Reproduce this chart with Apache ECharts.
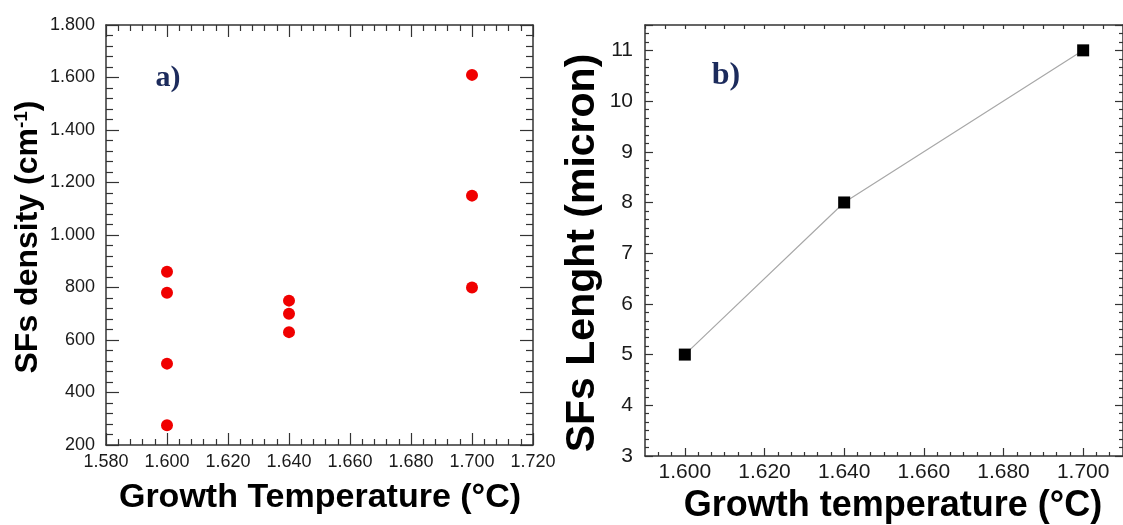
<!DOCTYPE html>
<html>
<head>
<meta charset="utf-8">
<script src="https://cdn.jsdelivr.net/npm/echarts@6/dist/echarts.min.js"></script>
<style>
  html, body { margin: 0; padding: 0; background: #fff; }
  #main { width: 1123px; height: 525px; }
</style>
</head>
<body>
<div id="main"></div>
<script>
// panel a) SF density vs growth temperature
var densityTemps = [1600, 1600, 1600, 1600, 1640, 1640, 1640, 1700, 1700, 1700];
var densityValues = [860, 780, 510, 275, 750, 700, 630, 1610, 1150, 800];

// panel b) SF length vs growth temperature
var lengthTemps = [1600, 1640, 1700];
var lengthValues = [5, 8, 11];

// tick labels of panel b x axis (axis starts at 1590)
var lengthTempTicks = [1600, 1620, 1640, 1660, 1680, 1700];
var lengthTempMinor = [1610, 1630, 1650, 1670, 1690];

var FONT = 'Liberation Sans';
var AXIS = '#333';
var TXT = '#1a1a1a';

// 1800 -> "1.800"
function fmt(v) {
  var s = String(Math.round(v));
  return s.length > 3 ? s.slice(0, -3) + '.' + s.slice(-3) : s;
}

function pairs(xs, ys) {
  return xs.map(function (x, i) { return [x, ys[i]]; });
}

var chart = echarts.init(document.getElementById('main'));

function frameAxis(extra) {
  // mirrored axis on top / right: line + inside ticks, no labels
  return Object.assign({
    type: 'value',
    axisLine: { show: true, onZero: false, lineStyle: { color: AXIS, width: 1.5 } },
    axisLabel: { show: false },
    splitLine: { show: false }
  }, extra);
}

var option = {
  animation: false,
  backgroundColor: '#fff',
  grid: [
    { left: 106, top: 25, width: 427, height: 420 },
    { left: 645, top: 25, width: 481, height: 431 }
  ],
  xAxis: [
    {
      gridIndex: 0, type: 'value', position: 'bottom',
      min: 1580, max: 1720, interval: 20,
      axisLine: { onZero: false, lineStyle: { color: AXIS, width: 1.5 } },
      axisTick: { inside: true, length: 12, lineStyle: { color: AXIS, width: 1.2 } },
      minorTick: { show: true, splitNumber: 5, length: 6, lineStyle: { color: AXIS, width: 1.2 } },
      axisLabel: { formatter: fmt, fontFamily: FONT, fontSize: 18, color: TXT, margin: 8 },
      splitLine: { show: false }
    },
    frameAxis({
      gridIndex: 0, position: 'top', min: 1580, max: 1720, interval: 20,
      axisTick: { inside: true, length: 12, lineStyle: { color: AXIS, width: 1.2 } },
      minorTick: { show: true, splitNumber: 5, length: 6, lineStyle: { color: AXIS, width: 1.2 } }
    }),
    {
      gridIndex: 1, type: 'value', position: 'bottom',
      min: 1590, max: 1710, interval: 10,
      axisLine: { onZero: false, lineStyle: { color: AXIS, width: 1.5 } },
      axisTick: { inside: true, length: 8, customValues: lengthTempTicks, lineStyle: { color: AXIS, width: 1.2 } },
      minorTick: { show: true, splitNumber: 3, length: 4, lineStyle: { color: AXIS, width: 1.2 } },
      axisLabel: { customValues: lengthTempTicks, formatter: fmt, fontFamily: FONT, fontSize: 21, color: TXT, margin: 6 },
      splitLine: { show: false }
    },
    {
      gridIndex: 1, type: 'value', position: 'bottom',
      min: 1590, max: 1710, interval: 10,
      axisLine: { show: false },
      axisTick: { inside: true, length: 4, customValues: lengthTempMinor, lineStyle: { color: AXIS, width: 1.2 } },
      axisLabel: { show: false },
      splitLine: { show: false }
    },
    frameAxis({
      gridIndex: 1, position: 'top', min: 1590, max: 1710, interval: 10,
      axisTick: { inside: true, length: 4, lineStyle: { color: AXIS, width: 1.2 } },
      minorTick: { show: true, splitNumber: 2, length: 4, lineStyle: { color: AXIS, width: 1.2 } }
    })
  ],
  yAxis: [
    {
      gridIndex: 0, type: 'value', position: 'left',
      min: 200, max: 1800, interval: 200,
      axisLine: { show: true, onZero: false, lineStyle: { color: AXIS, width: 1.5 } },
      axisTick: { show: true, inside: true, length: 13, lineStyle: { color: AXIS, width: 1.2 } },
      minorTick: { show: true, splitNumber: 5, length: 7, lineStyle: { color: AXIS, width: 1.2 } },
      axisLabel: { formatter: fmt, fontFamily: FONT, fontSize: 18, color: TXT, margin: 11 },
      splitLine: { show: false }
    },
    frameAxis({
      gridIndex: 0, position: 'right', min: 200, max: 1800, interval: 200,
      axisTick: { show: true, inside: true, length: 13, lineStyle: { color: AXIS, width: 1.2 } },
      minorTick: { show: true, splitNumber: 5, length: 7, lineStyle: { color: AXIS, width: 1.2 } }
    }),
    {
      gridIndex: 1, type: 'value', position: 'left',
      min: 3, max: 11.5, interval: 1,
      axisLine: { show: true, onZero: false, lineStyle: { color: AXIS, width: 1.5 } },
      axisTick: { show: true, inside: true, length: 8, lineStyle: { color: AXIS, width: 1.2 } },
      minorTick: { show: true, splitNumber: 6, length: 4, lineStyle: { color: AXIS, width: 1.2 } },
      axisLabel: { fontFamily: FONT, fontSize: 21, color: TXT, margin: 12, showMaxLabel: false },
      splitLine: { show: false }
    },
    frameAxis({
      gridIndex: 1, position: 'right', min: 3, max: 11.5, interval: 1,
      axisTick: { show: true, inside: true, length: 8, lineStyle: { color: AXIS, width: 1.2 } },
      minorTick: { show: true, splitNumber: 6, length: 4, lineStyle: { color: AXIS, width: 1.2 } }
    })
  ],
  series: [
    {
      type: 'scatter',
      xAxisIndex: 0, yAxisIndex: 0,
      data: pairs(densityTemps, densityValues),
      symbol: 'circle', symbolSize: 12,
      itemStyle: { color: '#f00000', opacity: 1 }
    },
    {
      type: 'line',
      xAxisIndex: 2, yAxisIndex: 2,
      data: pairs(lengthTemps, lengthValues),
      symbol: 'rect', symbolSize: 12,
      lineStyle: { color: '#a8a8a8', width: 1.2 },
      itemStyle: { color: '#000' }
    }
  ],
  graphic: [
    {
      type: 'text', x: 28, y: 237, rotation: Math.PI / 2,
      style: {
        text: 'SFs density (cm{sup|-1})',
        fontFamily: FONT, fontSize: 32, fontWeight: 'bold', fill: '#000',
        align: 'center', verticalAlign: 'middle',
        rich: { sup: { fontFamily: FONT, fontSize: 19, fontWeight: 'bold', fill: '#000', verticalAlign: 'top', padding: [0, 0, 12, 0] } }
      }
    },
    {
      type: 'text', x: 320, y: 498,
      style: {
        text: 'Growth Temperature (°C)',
        fontFamily: FONT, fontSize: 34, fontWeight: 'bold', fill: '#000',
        align: 'center', verticalAlign: 'middle'
      }
    },
    {
      type: 'text', x: 583, y: 253, rotation: Math.PI / 2,
      style: {
        text: 'SFs Lenght (micron)',
        fontFamily: FONT, fontSize: 41, fontWeight: 'bold', fill: '#000',
        align: 'center', verticalAlign: 'middle'
      }
    },
    {
      type: 'text', x: 893, y: 506,
      style: {
        text: 'Growth temperature (°C)',
        fontFamily: FONT, fontSize: 36, fontWeight: 'bold', fill: '#000',
        align: 'center', verticalAlign: 'middle'
      }
    },
    {
      type: 'text', x: 168, y: 78,
      style: {
        text: 'a)', fontFamily: 'Liberation Serif', fontSize: 30, fontWeight: 'bold',
        fill: '#1c2b5c', align: 'center', verticalAlign: 'middle'
      }
    },
    {
      type: 'text', x: 726, y: 76,
      style: {
        text: 'b)', fontFamily: 'Liberation Serif', fontSize: 32, fontWeight: 'bold',
        fill: '#1c2b5c', align: 'center', verticalAlign: 'middle'
      }
    }
  ]
};

chart.setOption(option);
</script>
</body>
</html>
